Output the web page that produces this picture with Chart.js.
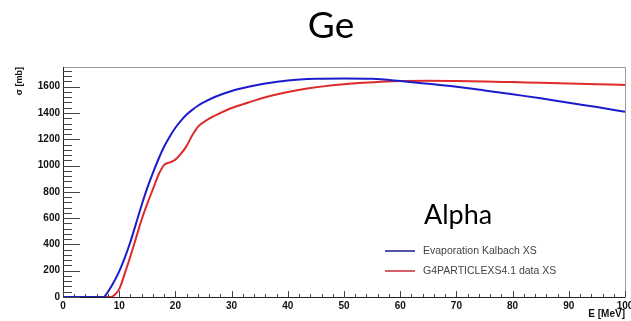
<!DOCTYPE html>
<html>
<head>
<meta charset="utf-8">
<script src="https://cdn.jsdelivr.net/npm/chart.js@4/dist/chart.umd.min.js"></script>
<style>
html,body{margin:0;padding:0;background:#fff;}
#wrap{width:631px;height:321px;position:relative;}
</style>
</head>
<body>
<div id="wrap"><canvas id="c" width="631" height="321"></canvas></div>
<script>
// ---- data ----
const chartTitle = "Ge";
const particleLabel = "Alpha";
const seriesLabels = ["Evaporation Kalbach XS", "G4PARTICLEXS4.1 data XS"];

const kalbachE  = [0, 7.2, 8, 9, 10, 11, 12, 13, 14, 15, 16, 17, 18, 19, 20, 21, 22, 23, 24, 25, 27, 30, 33, 36, 40, 45, 50, 55, 60, 65, 70, 75, 80, 85, 90, 95, 100];
const kalbachXS = [0, 0, 40, 110, 195, 300, 420, 560, 700, 830, 945, 1050, 1145, 1222, 1288, 1342, 1388, 1424, 1455, 1480, 1522, 1568, 1600, 1625, 1648, 1660, 1663, 1660, 1643, 1622, 1600, 1572, 1542, 1512, 1478, 1445, 1410];

const particleE  = [0, 8.6, 9, 10, 11, 12, 13, 14, 15, 16, 17, 18, 19, 20, 21, 22, 23, 24, 25, 26, 28, 30, 33, 36, 40, 44, 48, 52, 56, 60, 65, 70, 75, 80, 85, 90, 95, 100];
const particleXS = [0, 0, 10, 60, 180, 310, 450, 590, 710, 820, 930, 1005, 1024, 1045, 1090, 1150, 1230, 1295, 1330, 1358, 1400, 1438, 1480, 1520, 1560, 1590, 1612, 1627, 1636, 1643, 1645, 1643, 1640, 1635, 1630, 1625, 1619, 1613];

const xTickStep = 10, xMinorStep = 2, xMin = 0, xMax = 100;
const yTickStep = 200, yMinorStep = 40, yMin = 0, yMax = 1750;

const blue = "#1c1ccc", red = "#dd2b2b";

const toPts = (xs, ys) => xs.map((x, i) => ({x: x, y: ys[i]}));

const decor = {
  id: "decor",
  afterDraw(chart) {
    const ctx = chart.ctx, a = chart.chartArea;
    const xs = chart.scales.x, ys = chart.scales.y;
    ctx.save();
    // frame
    ctx.lineWidth = 1;
    ctx.strokeStyle = "#9a9a9a";
    ctx.beginPath();
    ctx.moveTo(a.left, a.top + 0.5); ctx.lineTo(a.right + 0.5, a.top + 0.5); ctx.lineTo(a.right + 0.5, a.bottom);
    ctx.stroke();
    ctx.strokeStyle = "#222";
    ctx.beginPath();
    ctx.moveTo(a.left + 0.5, a.top); ctx.lineTo(a.left + 0.5, a.bottom + 0.5); ctx.lineTo(a.right + 0.5, a.bottom + 0.5);
    ctx.stroke();
    // y ticks (inward)
    ctx.strokeStyle = "#444";
    ctx.beginPath();
    for (let v = yMin; v <= yMax + 1e-6; v += yMinorStep) {
      const p = Math.round(ys.getPixelForValue(v)) + 0.5;
      const major = Math.abs(v % yTickStep) < 1e-6;
      const len = major ? 17 : 9;
      ctx.moveTo(a.left, p); ctx.lineTo(a.left + len, p);
    }
    // x ticks (upward)
    for (let v = xMin; v <= xMax + 1e-6; v += xMinorStep) {
      const p = Math.round(xs.getPixelForValue(v)) + 0.5;
      const major = Math.abs(v % xTickStep) < 1e-6;
      const len = major ? 6 : 3;
      ctx.moveTo(p, a.bottom); ctx.lineTo(p, a.bottom - len);
    }
    ctx.stroke();
    // title
    ctx.fillStyle = "#000";
    ctx.font = "37px Lato, 'Open Sans', sans-serif";
    ctx.textAlign = "center";
    ctx.textBaseline = "alphabetic";
    ctx.fillText(chartTitle, 331, 38);
    // particle label
    ctx.font = "27px Lato, 'Open Sans', sans-serif";
    ctx.textAlign = "left";
    ctx.fillText(particleLabel, 424, 224);
    // legend
    const legendColors = ["#2a2a96", "#c8393b"];
    const legY = [251, 271];
    ctx.font = "10.5px 'Liberation Sans', Arial, sans-serif";
    ctx.textBaseline = "middle";
    chart.data.datasets.forEach((ds, i) => {
      ctx.strokeStyle = legendColors[i];
      ctx.lineWidth = 1.6;
      ctx.beginPath();
      ctx.moveTo(385, legY[i]); ctx.lineTo(415, legY[i]);
      ctx.stroke();
      ctx.fillStyle = "#444";
      ctx.fillText(ds.label, 423, legY[i]);
    });
    ctx.restore();
  }
};

const tickFont = {family: "'Liberation Sans', Arial, sans-serif", size: 10, weight: "bold"};

new Chart(document.getElementById("c"), {
  type: "scatter",
  data: {
    datasets: [
      {label: seriesLabels[0], data: toPts(kalbachE, kalbachXS), showLine: true, borderColor: blue, borderWidth: 2, pointRadius: 0, cubicInterpolationMode: "monotone"},
      {label: seriesLabels[1], data: toPts(particleE, particleXS), showLine: true, borderColor: red, borderWidth: 2, pointRadius: 0, cubicInterpolationMode: "monotone"}
    ]
  },
  options: {
    responsive: false,
    animation: false,
    devicePixelRatio: 1,
    layout: {padding: {top: 67, right: 6, left: 0, bottom: 0}},
    plugins: {legend: {display: false}, title: {display: false}, tooltip: {enabled: false}},
    scales: {
      x: {
        type: "linear", min: xMin, max: xMax,
        grid: {display: false, drawTicks: false},
        border: {display: false},
        ticks: {stepSize: xTickStep, maxRotation: 0, padding: 3, color: "#111", font: tickFont, format: {useGrouping: false}},
        title: {display: true, text: "E [MeV]", align: "end", color: "#111", padding: {top: 0, bottom: 1}, font: tickFont},
        afterFit(s) { s.height = 24; s.paddingLeft = 0; s.paddingRight = 0; }
      },
      y: {
        type: "linear", min: yMin, max: yMax,
        grid: {display: false, drawTicks: false},
        border: {display: false},
        ticks: {stepSize: yTickStep, includeBounds: false, padding: 3, color: "#111", font: tickFont, format: {useGrouping: false}},
        title: {display: true, text: "σ [mb]", align: "end", color: "#111", padding: {top: 14, bottom: 0}, font: {family: "'Liberation Sans', Arial, sans-serif", size: 9, weight: "bold"}},
        afterFit(s) { s.width = 63; s.paddingTop = 0; s.paddingBottom = 0; }
      }
    }
  },
  plugins: [decor]
});
</script>
</body>
</html>
